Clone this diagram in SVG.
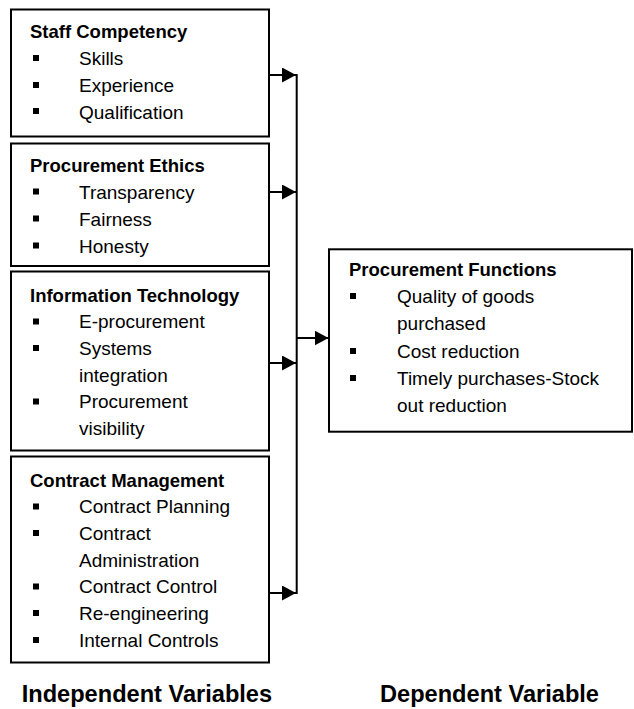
<svg xmlns="http://www.w3.org/2000/svg" width="634" height="709" viewBox="0 0 634 709">
  <style>
    .box { fill: #fff; stroke: #000; stroke-width: 2; }
    .t { font-family: "Liberation Sans", Arial, sans-serif; font-size: 19px; fill: #000; }
    .b { font-weight: bold; font-size: 18.5px; }
    .lbl { font-family: "Liberation Sans", Arial, sans-serif; font-size: 23.6px; font-weight: bold; fill: #000; }
    .bul { fill: #000; }
    .conn { stroke: #000; stroke-width: 2; fill: none; }
  </style>
  <defs>
    <marker id="arr" markerUnits="userSpaceOnUse" viewBox="0 0 14 15" refX="14" refY="7.5" markerWidth="14" markerHeight="15" orient="auto">
      <path d="M0,0 L14,7.5 L0,15 z" fill="#000"/>
    </marker>
    <rect id="sq" width="6" height="6" class="bul"/>
  </defs>
  <rect width="634" height="709" fill="#fff"/>

  <g id="staff-competency">
    <rect class="box" x="11" y="9.5" width="258" height="127"/>
    <text class="t b" x="30" y="38">Staff Competency</text>
    <use href="#sq" x="33" y="55"/><text class="t" x="79" y="65">Skills</text>
    <use href="#sq" x="33" y="82"/><text class="t" x="79" y="92">Experience</text>
    <use href="#sq" x="33" y="108"/><text class="t" x="79" y="118.5">Qualification</text>
  </g>

  <g id="procurement-ethics">
    <rect class="box" x="11" y="143.5" width="258" height="122.5"/>
    <text class="t b" x="30" y="171.5">Procurement Ethics</text>
    <use href="#sq" x="33" y="188.5"/><text class="t" x="79" y="198.5">Transparency</text>
    <use href="#sq" x="33" y="215.5"/><text class="t" x="79" y="225.5">Fairness</text>
    <use href="#sq" x="33" y="242.5"/><text class="t" x="79" y="252.5">Honesty</text>
  </g>

  <g id="information-technology">
    <rect class="box" x="11" y="271.5" width="258" height="179"/>
    <text class="t b" x="30" y="301.5">Information Technology</text>
    <use href="#sq" x="33" y="318.5"/><text class="t" x="79" y="328.3">E-procurement</text>
    <use href="#sq" x="33" y="345"/><text class="t" x="79" y="355">Systems</text>
    <text class="t" x="79" y="381.7">integration</text>
    <use href="#sq" x="33" y="398.5"/><text class="t" x="79" y="408.3">Procurement</text>
    <text class="t" x="79" y="435">visibility</text>
  </g>

  <g id="contract-management">
    <rect class="box" x="11" y="456.5" width="258" height="206"/>
    <text class="t b" x="30" y="486.7">Contract Management</text>
    <use href="#sq" x="33" y="503.5"/><text class="t" x="79" y="513.3">Contract Planning</text>
    <use href="#sq" x="33" y="530"/><text class="t" x="79" y="540">Contract</text>
    <text class="t" x="79" y="566.7">Administration</text>
    <use href="#sq" x="33" y="583.5"/><text class="t" x="79" y="593.3">Contract Control</text>
    <use href="#sq" x="33" y="610"/><text class="t" x="79" y="620">Re-engineering</text>
    <use href="#sq" x="33" y="637"/><text class="t" x="79" y="646.7">Internal Controls</text>
  </g>

  <g id="procurement-functions">
    <rect class="box" x="329" y="249.3" width="303" height="182.4"/>
    <text class="t b" x="349" y="275.5">Procurement Functions</text>
    <use href="#sq" x="350" y="293"/><text class="t" x="397" y="303">Quality of goods</text>
    <text class="t" x="397" y="330">purchased</text>
    <use href="#sq" x="350" y="348"/><text class="t" x="397" y="357.5">Cost reduction</text>
    <use href="#sq" x="350" y="375"/><text class="t" x="397" y="384.5">Timely purchases-Stock</text>
    <text class="t" x="397" y="411.5">out reduction</text>
  </g>

  <g id="connectors">
    <line class="conn" x1="296.7" y1="74" x2="296.7" y2="594"/>
    <line class="conn" x1="269" y1="75" x2="296" y2="75" marker-end="url(#arr)"/>
    <line class="conn" x1="269" y1="192" x2="296" y2="192" marker-end="url(#arr)"/>
    <line class="conn" x1="269" y1="363" x2="296" y2="363" marker-end="url(#arr)"/>
    <line class="conn" x1="269" y1="593" x2="296" y2="593" marker-end="url(#arr)"/>
    <line class="conn" x1="297" y1="338" x2="328.5" y2="338" marker-end="url(#arr)"/>
  </g>

  <g id="labels">
    <text class="lbl" x="21.7" y="701.7">Independent Variables</text>
    <text class="lbl" x="380" y="701.7">Dependent Variable</text>
  </g>
</svg>
